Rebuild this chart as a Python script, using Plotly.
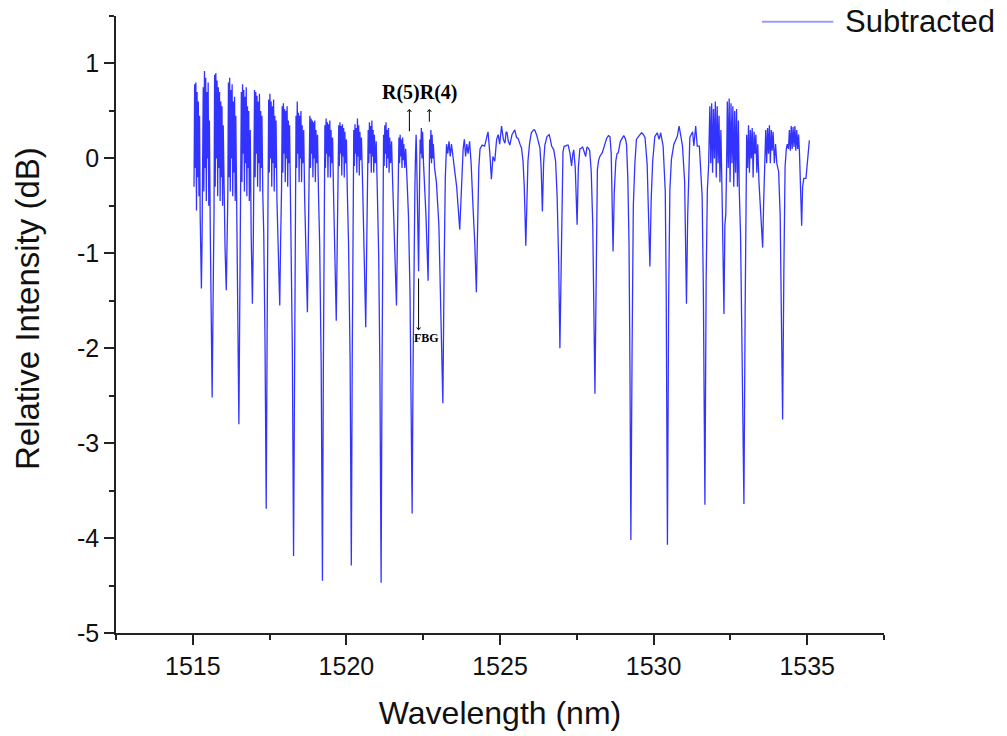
import plotly.graph_objects as go

# Spectrum: (wavelength nm, relative intensity dB)
band_1515 = [(1515.04, -0.30), (1515.06, 0.78), (1515.08, -0.10), (1515.10, 0.80), (1515.12, -0.55), (1515.14, 0.70),
             (1515.16, -0.20), (1515.18, 0.60), (1515.20, -0.40), (1515.22, 0.45), (1515.24, -0.60), (1515.26, -0.95),
             (1515.28, -1.37), (1515.30, -0.90), (1515.32, -0.30), (1515.34, 0.75), (1515.36, -0.35), (1515.38, 0.92),
             (1515.40, -0.10), (1515.42, 0.85), (1515.44, -0.45), (1515.46, 0.70), (1515.48, 0.00), (1515.50, 0.80),
             (1515.52, -0.50), (1515.54, 0.40), (1515.57, -0.80), (1515.60, -1.60), (1515.63, -2.52), (1515.66, -1.50),
             (1515.69, -0.60), (1515.71, 0.88), (1515.73, -0.30), (1515.75, 0.90), (1515.77, 0.00), (1515.79, 0.82),
             (1515.81, -0.40), (1515.83, 0.75), (1515.85, -0.10), (1515.87, 0.70), (1515.89, -0.45), (1515.91, 0.60),
             (1515.93, -0.20), (1515.95, 0.55), (1515.97, -0.50), (1515.99, 0.35), (1516.02, -0.60), (1516.05, -0.95),
             (1516.09, -1.39), (1516.12, -0.90), (1516.14, -0.40)]
band_1516 = [(1516.16, 0.80), (1516.18, -0.20), (1516.20, 0.85), (1516.22, -0.35), (1516.24, 0.72), (1516.26, 0.00),
             (1516.28, 0.78), (1516.30, -0.40), (1516.32, 0.60), (1516.34, -0.15), (1516.36, 0.65), (1516.38, -0.45),
             (1516.40, 0.45), (1516.43, -0.70), (1516.46, -1.60), (1516.50, -2.80), (1516.53, -1.50), (1516.56, -0.55),
             (1516.58, 0.70), (1516.60, -0.25), (1516.62, 0.78), (1516.64, 0.05), (1516.66, 0.72), (1516.68, -0.35),
             (1516.70, 0.65), (1516.72, -0.05), (1516.74, 0.75), (1516.76, -0.40), (1516.78, 0.55), (1516.80, -0.10),
             (1516.82, 0.50), (1516.84, -0.45), (1516.87, 0.30), (1516.90, -0.80), (1516.94, -1.53), (1516.97, -0.85),
             (1516.99, -0.30), (1517.01, 0.72), (1517.03, -0.20), (1517.05, 0.70), (1517.07, 0.05), (1517.09, 0.66),
             (1517.11, -0.30), (1517.13, 0.60), (1517.15, -0.05), (1517.17, 0.68), (1517.19, -0.35), (1517.21, 0.50),
             (1517.23, -0.10), (1517.25, 0.45), (1517.28, -0.40), (1517.31, -0.80), (1517.35, -1.90), (1517.39, -3.69),
             (1517.42, -1.80), (1517.45, -0.60)]
band_1517 = [(1517.47, 0.62), (1517.49, -0.15), (1517.51, 0.68), (1517.53, 0.00), (1517.55, 0.60), (1517.57, -0.30),
             (1517.59, 0.55), (1517.61, -0.05), (1517.63, 0.62), (1517.65, -0.35), (1517.67, 0.45), (1517.69, -0.10),
             (1517.71, 0.40), (1517.74, -0.45), (1517.77, -0.85), (1517.83, -1.55), (1517.86, -0.85), (1517.89, -0.30),
             (1517.91, 0.55), (1517.93, -0.15), (1517.95, 0.58), (1517.97, 0.05), (1517.99, 0.52), (1518.01, -0.25),
             (1518.03, 0.50), (1518.05, 0.00), (1518.07, 0.55), (1518.09, -0.30), (1518.11, 0.40), (1518.13, -0.05),
             (1518.15, 0.35), (1518.18, -0.40), (1518.21, -0.90), (1518.24, -2.00), (1518.28, -4.19), (1518.31, -2.00),
             (1518.34, -0.60), (1518.36, 0.45), (1518.38, -0.10), (1518.40, 0.60), (1518.42, 0.05), (1518.44, 0.48),
             (1518.46, -0.25), (1518.48, 0.45), (1518.50, 0.00), (1518.52, 0.50), (1518.54, -0.25), (1518.56, 0.35),
             (1518.58, -0.05), (1518.61, 0.30), (1518.64, -0.40), (1518.68, -0.90), (1518.73, -1.62), (1518.76, -0.90),
             (1518.79, -0.30)]
band_1519 = [(1518.81, 0.45), (1518.83, -0.10), (1518.85, 0.42), (1518.87, 0.05), (1518.89, 0.40), (1518.91, -0.20),
             (1518.93, 0.38), (1518.95, 0.00), (1518.97, 0.40), (1518.99, -0.25), (1519.01, 0.30), (1519.03, -0.05),
             (1519.06, 0.25), (1519.09, -0.35), (1519.13, -0.90), (1519.18, -2.20), (1519.22, -4.45), (1519.25, -2.20),
             (1519.28, -0.60), (1519.30, 0.35), (1519.32, -0.10), (1519.34, 0.42), (1519.36, 0.05), (1519.38, 0.38),
             (1519.40, -0.20), (1519.42, 0.36), (1519.44, 0.02), (1519.46, 0.40), (1519.48, -0.20), (1519.50, 0.30),
             (1519.52, -0.05), (1519.55, 0.22), (1519.58, -0.35), (1519.62, -0.90), (1519.67, -1.71), (1519.70, -0.95),
             (1519.73, -0.30), (1519.75, 0.35), (1519.77, -0.08), (1519.79, 0.38), (1519.81, 0.05), (1519.83, 0.34),
             (1519.85, -0.18), (1519.87, 0.36), (1519.89, 0.02), (1519.91, 0.32), (1519.93, -0.20), (1519.95, 0.28),
             (1519.97, -0.05), (1520.00, 0.20), (1520.03, -0.35), (1520.07, -0.90), (1520.12, -2.10), (1520.16, -4.29),
             (1520.19, -2.10), (1520.22, -0.60)]
band_1520 = [(1520.24, 0.30), (1520.26, -0.08), (1520.28, 0.36), (1520.30, 0.05), (1520.32, 0.32), (1520.34, -0.15),
             (1520.36, 0.42), (1520.38, 0.02), (1520.40, 0.35), (1520.42, -0.18), (1520.44, 0.28), (1520.46, -0.02),
             (1520.49, 0.22), (1520.53, -0.30), (1520.58, -0.95), (1520.63, -1.78), (1520.66, -0.95), (1520.69, -0.30),
             (1520.71, 0.30), (1520.73, -0.05), (1520.75, 0.38), (1520.77, 0.05), (1520.79, 0.34), (1520.81, -0.15),
             (1520.83, 0.40), (1520.85, 0.02), (1520.87, 0.30), (1520.89, -0.15), (1520.91, 0.25), (1520.94, -0.05),
             (1520.97, 0.18), (1521.01, -0.40), (1521.05, -1.00), (1521.09, -2.20), (1521.13, -4.47), (1521.16, -2.20),
             (1521.19, -0.60), (1521.21, 0.25), (1521.23, -0.08), (1521.25, 0.35), (1521.27, 0.05), (1521.29, 0.38),
             (1521.31, -0.10), (1521.33, 0.30), (1521.35, 0.00), (1521.37, 0.32), (1521.39, -0.15), (1521.41, 0.22),
             (1521.44, -0.05), (1521.47, 0.18), (1521.51, -0.30), (1521.57, -0.85), (1521.63, -1.55), (1521.66, -0.85),
             (1521.69, -0.25)]
band_1522 = [(1521.71, 0.22), (1521.73, -0.05), (1521.75, 0.25), (1521.77, 0.02), (1521.79, 0.20), (1521.81, -0.10),
             (1521.83, 0.22), (1521.85, -0.02), (1521.87, 0.15), (1521.90, -0.10), (1521.93, 0.10), (1521.97, -0.20),
             (1522.02, -0.60), (1522.07, -1.40), (1522.11, -2.60), (1522.14, -3.74), (1522.17, -2.20), (1522.20, -0.80),
             (1522.23, -0.30), (1522.25, 0.05), (1522.27, 0.25), (1522.29, -0.05), (1522.31, -0.40), (1522.35, -1.19),
             (1522.38, -0.30), (1522.40, 0.20), (1522.42, 0.05), (1522.44, 0.32), (1522.46, 0.00), (1522.48, 0.28),
             (1522.51, -0.05), (1522.54, -0.25), (1522.59, -0.60), (1522.66, -1.29), (1522.69, -0.40), (1522.71, 0.20),
             (1522.73, 0.00), (1522.75, 0.30), (1522.77, -0.05), (1522.79, 0.25), (1522.81, 0.00), (1522.83, 0.15),
             (1522.87, -0.10), (1522.93, -0.25), (1523.01, -0.70), (1523.07, -1.50), (1523.14, -2.58), (1523.18, -1.20),
             (1523.22, -0.20)]
mid_1523 = [(1523.26, 0.15), (1523.30, 0.05), (1523.34, 0.18), (1523.38, 0.02), (1523.42, 0.15), (1523.47, 0.00),
            (1523.52, -0.10), (1523.59, -0.30), (1523.69, -0.75), (1523.75, -0.25), (1523.80, 0.10), (1523.84, 0.20),
            (1523.88, 0.02), (1523.92, 0.15), (1523.96, 0.05), (1524.01, 0.18), (1524.06, -0.05), (1524.12, -0.50),
            (1524.18, -0.90), (1524.23, -1.41), (1524.27, -0.70), (1524.31, -0.10), (1524.35, 0.10), (1524.42, 0.14),
            (1524.50, 0.13), (1524.56, 0.20), (1524.61, 0.28), (1524.67, 0.05), (1524.72, -0.22), (1524.77, 0.02),
            (1524.83, -0.03), (1524.89, 0.20), (1524.94, 0.25), (1524.99, 0.15), (1525.05, 0.34), (1525.11, 0.20),
            (1525.16, 0.16), (1525.20, 0.28), (1525.23, 0.27), (1525.27, 0.18), (1525.32, 0.14), (1525.39, 0.25),
            (1525.48, 0.30), (1525.54, 0.22), (1525.59, 0.21), (1525.65, 0.15), (1525.70, 0.11), (1525.75, -0.03),
            (1525.79, -0.30), (1525.84, -0.92), (1525.88, -0.30), (1525.91, -0.03), (1525.96, 0.15), (1526.02, 0.27),
            (1526.09, 0.30), (1526.13, 0.30), (1526.19, 0.25), (1526.24, 0.18), (1526.30, 0.11), (1526.34, -0.10),
            (1526.38, -0.56), (1526.42, -0.05)]
mid_1526 = [(1526.46, 0.14), (1526.53, 0.23), (1526.60, 0.25), (1526.64, 0.20), (1526.68, 0.13), (1526.75, 0.09),
            (1526.81, -0.03), (1526.86, -0.40), (1526.91, -1.10), (1526.95, -2.00), (1526.99, -1.00), (1527.02, -0.20),
            (1527.05, 0.07), (1527.09, 0.13), (1527.13, 0.13), (1527.18, 0.14), (1527.22, 0.14), (1527.28, 0.05),
            (1527.33, -0.08), (1527.37, 0.05), (1527.40, 0.09), (1527.45, -0.10), (1527.51, -0.70), (1527.55, -0.10),
            (1527.60, 0.10), (1527.65, 0.11), (1527.69, 0.12), (1527.74, 0.07), (1527.79, 0.02), (1527.83, 0.12),
            (1527.87, 0.11), (1527.92, 0.08), (1527.97, -0.14), (1528.02, -0.70), (1528.06, -1.60), (1528.09, -2.48),
            (1528.13, -1.30), (1528.17, -0.12), (1528.21, -0.02), (1528.25, 0.02), (1528.33, 0.06), (1528.39, 0.12),
            (1528.47, 0.21), (1528.53, 0.24), (1528.58, 0.23), (1528.62, 0.05), (1528.65, -0.40), (1528.68, -0.98),
            (1528.72, -0.35), (1528.77, -0.03), (1528.81, 0.05), (1528.85, 0.06), (1528.92, 0.18), (1529.03, 0.24),
            (1529.09, 0.20), (1529.12, 0.14), (1529.16, -0.20), (1529.20, -0.90), (1529.23, -2.20), (1529.26, -4.02),
            (1529.30, -2.00), (1529.34, -0.50), (1529.39, -0.06)]
right_1529 = [(1529.44, 0.20), (1529.53, 0.24), (1529.61, 0.27), (1529.67, 0.25), (1529.72, 0.22), (1529.79, -0.06),
              (1529.83, -0.50), (1529.88, -1.14), (1529.92, -0.45), (1529.97, -0.03), (1530.04, 0.23), (1530.12, 0.27),
              (1530.18, 0.20), (1530.23, 0.27), (1530.31, 0.13), (1530.38, -0.35), (1530.41, -1.40), (1530.45, -4.07),
              (1530.49, -1.50), (1530.53, -0.33), (1530.58, -0.01), (1530.66, 0.15), (1530.77, 0.23), (1530.83, 0.34),
              (1530.89, 0.23), (1530.94, 0.13), (1531.01, -0.24), (1531.04, -0.70), (1531.07, -1.53), (1531.11, -0.60),
              (1531.14, -0.21), (1531.18, 0.22), (1531.27, 0.28), (1531.31, 0.13), (1531.37, 0.34), (1531.42, 0.13),
              (1531.49, 0.13), (1531.54, -0.21), (1531.58, -0.40), (1531.62, -1.40), (1531.67, -3.65), (1531.71, -1.30),
              (1531.75, -0.33), (1531.79, -0.08)]
right_1532 = [(1531.83, 0.55), (1531.86, -0.05), (1531.89, 0.58), (1531.92, -0.15), (1531.95, 0.52), (1531.98, 0.00),
              (1532.01, 0.60), (1532.04, -0.20), (1532.07, 0.55), (1532.10, -0.05), (1532.13, 0.45), (1532.16, -0.25),
              (1532.19, 0.30), (1532.23, -0.40), (1532.26, -0.90), (1532.29, -1.64), (1532.32, -0.70), (1532.35, -0.59),
              (1532.38, 0.00), (1532.40, 0.60), (1532.43, -0.10), (1532.46, 0.63), (1532.49, -0.25), (1532.52, 0.58),
              (1532.55, -0.05), (1532.58, 0.55), (1532.61, -0.30), (1532.64, 0.50), (1532.67, -0.15), (1532.70, 0.52),
              (1532.73, -0.30), (1532.76, 0.40), (1532.79, -0.35), (1532.83, -0.80), (1532.87, -1.80), (1532.94, -3.64),
              (1532.98, -1.60), (1533.01, -0.40)]
right_1533 = [(1533.03, 0.25), (1533.06, -0.10), (1533.09, 0.35), (1533.12, -0.15), (1533.15, 0.30), (1533.18, 0.00),
              (1533.21, 0.32), (1533.24, -0.20), (1533.27, 0.28), (1533.30, 0.05), (1533.33, 0.25), (1533.36, -0.15),
              (1533.39, 0.15), (1533.43, -0.25), (1533.48, -0.50), (1533.52, -0.80), (1533.55, -0.94), (1533.58, -0.50),
              (1533.62, 0.05), (1533.65, 0.30), (1533.68, -0.05), (1533.71, 0.32), (1533.74, 0.05), (1533.77, 0.35),
              (1533.80, -0.05), (1533.83, 0.30), (1533.86, 0.08), (1533.89, 0.28), (1533.93, -0.05), (1533.97, 0.15),
              (1534.01, -0.05), (1534.07, -0.14), (1534.12, -0.60), (1534.16, -1.50), (1534.20, -2.75), (1534.24, -1.20),
              (1534.28, -0.09), (1534.32, 0.10), (1534.35, 0.15), (1534.39, 0.10), (1534.42, 0.30), (1534.45, 0.08),
              (1534.48, 0.34), (1534.51, 0.10), (1534.54, 0.33), (1534.57, 0.12), (1534.60, 0.34), (1534.63, 0.08),
              (1534.66, 0.30), (1534.69, 0.10), (1534.72, 0.25), (1534.75, 0.05), (1534.78, -0.20), (1534.82, -0.71),
              (1534.85, -0.30), (1534.89, -0.21), (1534.96, -0.21), (1535.02, 0.00), (1535.07, 0.19)]

segments = [band_1515, band_1516, band_1517, band_1519, band_1520, band_1522,
            mid_1523, mid_1526, right_1529, right_1532, right_1533]
wavelength = [p[0] for seg in segments for p in seg]
intensity = [p[1] for seg in segments for p in seg]

x_ticks = [1515, 1520, 1525, 1530, 1535]
y_ticks = [-5, -4, -3, -2, -1, 0, 1]
y_ticktext = ["-5", "-4", "-3", "-2", "-1", "0", "1"]
series_name = "Subtracted"
x_title = "Wavelength (nm)"
y_title = "Relative Intensity (dB)"

SANS = "Liberation Sans, Arial, sans-serif"
SERIF = "Liberation Serif, Times New Roman, serif"
LINE_COLOR = "rgba(0,0,255,0.8)"

fig = go.Figure()
fig.add_trace(go.Scatter(
    x=wavelength, y=intensity, mode="lines", name=series_name, showlegend=False,
    line=dict(color=LINE_COLOR, width=1.3),
))

axis_common = dict(
    showline=True, linecolor="#222", linewidth=1.6, showgrid=False, zeroline=False,
    ticks="outside", ticklen=10, tickwidth=1.6, tickcolor="#222",
    tickfont=dict(family=SANS, size=25, color="#111"),
    mirror=False,
)

fig.update_xaxes(
    range=[1512.5, 1537.5], tickvals=x_ticks,
    minor=dict(tick0=1512.5, dtick=2.5, ticks="outside", ticklen=5, tickwidth=1.6, tickcolor="#222"),
    title=dict(text=x_title, font=dict(family=SANS, size=32, color="#111"), standoff=23),
    **axis_common,
)
fig.update_yaxes(
    range=[-5, 1.5], tickvals=y_ticks, ticktext=y_ticktext,
    minor=dict(tick0=-5, dtick=0.5, ticks="outside", ticklen=5, tickwidth=1.6, tickcolor="#222"),
    **axis_common,
)

arrow_style = dict(showarrow=True, arrowhead=4, arrowsize=0.8, arrowwidth=1, arrowcolor="black",
                   axref="x", ayref="y", text="")
annotations = [
    dict(x=1522.39, y=0.69, text="<b>R(5)R(4)</b>", showarrow=False,
         font=dict(family=SERIF, size=20, color="black")),
    dict(x=1522.05, y=0.52, ax=1522.05, ay=0.27, **arrow_style),
    dict(x=1522.70, y=0.52, ax=1522.70, ay=0.37, **arrow_style),
    dict(x=1522.35, y=-1.81, ax=1522.35, ay=-1.25, **arrow_style),
    dict(x=1522.60, y=-1.89, text="<b>FBG</b>", showarrow=False,
         font=dict(family=SERIF, size=12, color="black")),
    # y-axis title
    dict(x=-0.1159, y=0.5267, xref="paper", yref="paper", xanchor="center", yanchor="middle",
         text=y_title, textangle=-90, showarrow=False,
         font=dict(family=SANS, size=33, color="#111")),
    # legend entry text
    dict(x=0.9466, y=0.9908, xref="paper", yref="paper", xanchor="left", yanchor="middle",
         text=series_name, showarrow=False, font=dict(family=SANS, size=31, color="#111")),
]

fig.update_layout(
    width=1007, height=736,
    margin=dict(l=116, r=123, t=16, b=103, autoexpand=False),
    paper_bgcolor="white", plot_bgcolor="white",
    showlegend=False,
    annotations=annotations,
    shapes=[dict(type="line", xref="paper", yref="paper", x0=0.841, x1=0.934, y0=0.9908, y1=0.9908,
                 line=dict(color="rgba(0,0,255,0.4)", width=2))],
)

fig.write_html("out.html", config={"displayModeBar": False},
               post_script="document.body.style.margin='0';")
